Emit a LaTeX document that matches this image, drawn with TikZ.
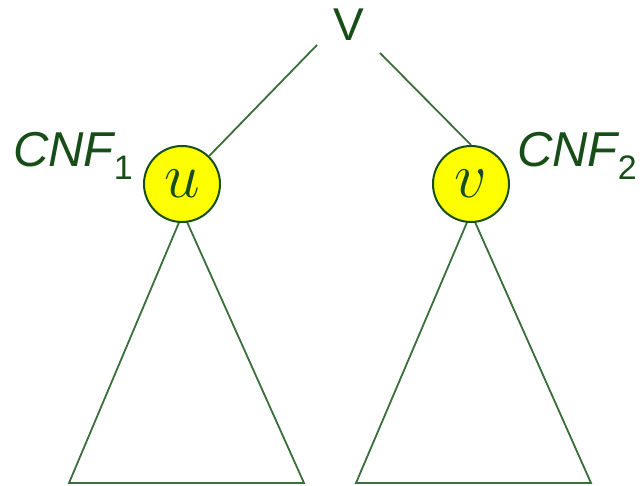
\RequirePackage{fix-cm}
\documentclass[tikz,border=0pt]{standalone}
\usepackage{fontspec}
\setsansfont{Liberation Sans}
\usepackage{tikz}
\usetikzlibrary{positioning,calc,backgrounds}
\definecolor{forest}{HTML}{174D17}
\definecolor{twig}{HTML}{3A6E3A}
\definecolor{lemon}{HTML}{FFFF00}
\tikzset{
  vtx/.style={circle,draw=forest,fill=lemon,line width=2pt,minimum size=76pt,inner sep=0pt,font=\fontsize{64}{64}\selectfont,text=forest},
  branch/.style={draw=twig,line width=1.8pt},
  lbl/.style={font=\sffamily\fontsize{46}{46}\selectfont,text=forest,inner sep=0pt},
  cnf/.style={lbl,font=\sffamily\itshape\fontsize{49}{49}\selectfont},
}
\newcommand{\sub}[1]{\raisebox{-13pt}{\upshape\fontsize{34}{34}\selectfont #1}}

\begin{document}
\begin{tikzpicture}[x=1pt,y=1pt]
\useasboundingbox (0,0) rectangle (642,486);
% root and the two children
\node[lbl] (root) at (349,461) {V};
\node[vtx] (u) at (182,302) {$u$};
\node[vtx] (v) at (471,302) {$v$};
\node[cnf,anchor=base east] (cnf1) at (133,319) {CNF\sub{1}};
\node[cnf,anchor=base west] (cnf2) at (517,319) {CNF\sub{2}};
\coordinate (rl) at (317,441);
\coordinate (rr) at (380,433);
\draw[branch] (rl) -- (u);
\draw[branch] (rr) -- (v.north);
% subtrees hang behind the circles
\begin{scope}[on background layer]
\draw[branch] ($(u)+(1,-29)$) -- ++(-114,-270) -- ++(235,0) -- cycle;
\draw[branch] ($(v)+(0,-29)$) -- ++(-115,-270) -- ++(235,0) -- cycle;
\end{scope}
\end{tikzpicture}
\end{document}
